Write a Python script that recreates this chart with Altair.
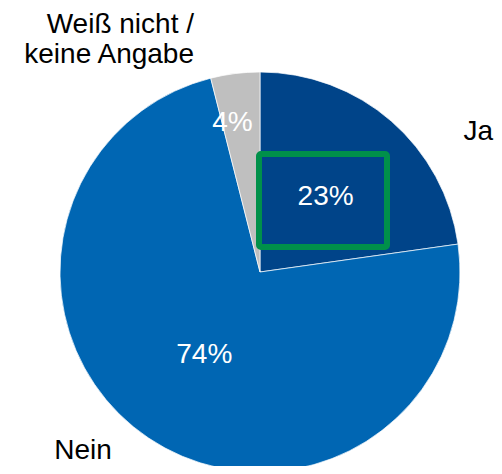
import altair as alt
import pandas as pd

categories = ["Ja", "Nein", "Weiß nicht / keine Angabe"]
values = [23, 74, 4]
labels = ["23%", "74%", "4%"]
colors = ["#004489", "#0066b3", "#bfbfbf"]

df = pd.DataFrame({"cat": categories, "val": values, "lab": labels, "idx": list(range(len(categories)))})

CX, CY, R = 252, 264, 200
FONT = "Liberation Sans"

theta = alt.Theta("val:Q", stack=True)
order = alt.Order("idx:O", sort="ascending")
color = alt.Color("cat:N", scale=alt.Scale(domain=categories, range=colors), legend=None)

base = alt.Chart(df)

pie = base.mark_arc(radius=R, stroke="white", strokeWidth=0.7).encode(
    theta=theta, order=order, color=color,
    x=alt.value(CX), y=alt.value(CY),
)

pct_main = base.mark_text(
    radius=100, font=FONT, fontSize=28, color="white", baseline="middle", align="center"
).encode(theta=theta, order=order, text="lab:N", x=alt.value(CX), y=alt.value(CY),
         opacity=alt.condition(alt.datum.idx < 2, alt.value(1), alt.value(0)))

pct_small = base.mark_text(
    radius=150, dx=-9, font=FONT, fontSize=28, color="white", baseline="middle", align="center"
).encode(theta=theta, order=order, text="lab:N", x=alt.value(CX), y=alt.value(CY),
         opacity=alt.condition(alt.datum.idx == 2, alt.value(1), alt.value(0)))

box = alt.Chart(pd.DataFrame({"a": [0]})).mark_rect(
    fill=None, stroke="#00904a", strokeWidth=6, cornerRadius=2
).encode(x=alt.value(251), x2=alt.value(379), y=alt.value(146), y2=alt.value(239))

lab_ja = alt.Chart(pd.DataFrame({"t": ["Ja"]})).mark_text(
    font=FONT, fontSize=28, align="right", baseline="alphabetic", color="black"
).encode(text="t:N", x=alt.value(485), y=alt.value(132))

lab_nein = alt.Chart(pd.DataFrame({"t": ["Nein"]})).mark_text(
    font=FONT, fontSize=28, align="center", baseline="alphabetic", color="black"
).encode(text="t:N", x=alt.value(75), y=alt.value(451))

lab_wn = alt.Chart(pd.DataFrame({"t": [["Weiß nicht /", "keine Angabe"]]})).mark_text(
    font=FONT, fontSize=28, align="right", baseline="alphabetic", lineHeight=30, color="black"
).encode(text="t", x=alt.value(186), y=alt.value(25))

chart = alt.layer(pie, box, pct_main, pct_small, lab_ja, lab_nein, lab_wn).properties(
    width=486, height=458, padding=0, autosize=alt.AutoSizeParams(type="none")
).configure_view(stroke=None)

chart.save("out.html", embed_options={"renderer": "svg", "actions": False})
